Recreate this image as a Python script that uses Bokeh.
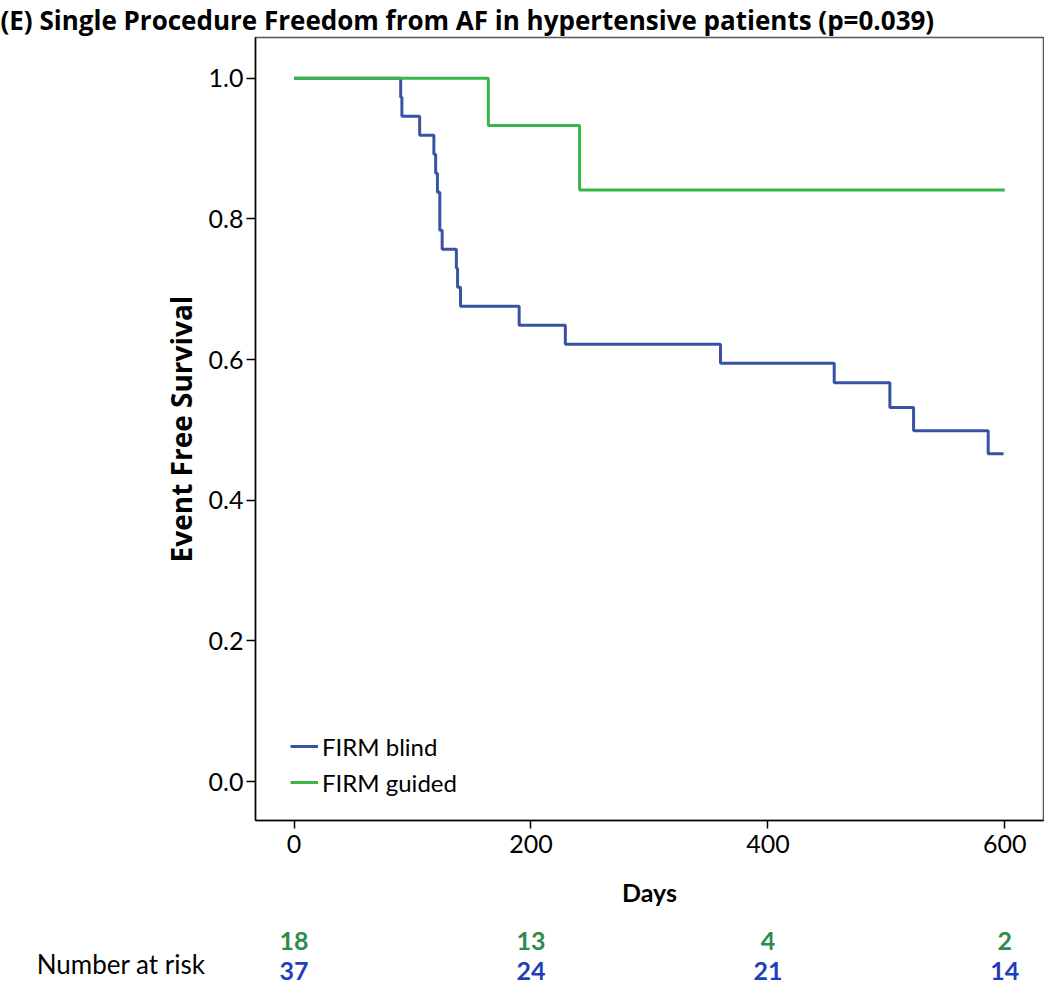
from bokeh.plotting import figure
from bokeh.models import (Range1d, FixedTicker, PrintfTickFormatter, Legend,
                          LegendItem, Title, LinearAxis)
from bokeh.layouts import column
from bokeh.embed import file_html
from bokeh.resources import INLINE
from bokeh.core.properties import value

# ---------------- data ----------------
title_text = "(E) Single Procedure Freedom from AF in hypertensive patients (p=0.039)"
x_label = "Days"
y_label = "Event Free Survival"
series_names = ["FIRM blind", "FIRM guided"]

blind_days = [0, 90, 91, 106, 118, 119.5, 121, 123, 125, 137, 138, 140.5,
              190, 229, 360, 456, 503, 523, 586, 599]
blind_surv = [1.0, 0.973, 0.946, 0.919, 0.892, 0.865, 0.838, 0.784, 0.757,
              0.730, 0.703, 0.676, 0.649, 0.622, 0.595, 0.567, 0.532, 0.499,
              0.466, 0.466]

guided_days = [0, 164, 241, 600]
guided_surv = [1.0, 0.933, 0.841, 0.841]

risk_label = "Number at risk"
risk_days = [0, 200, 400, 600]
risk_guided = [18, 13, 4, 2]
risk_blind = [37, 24, 21, 14]

x_ticks = [0, 200, 400, 600]
y_ticks = [0.0, 0.2, 0.4, 0.6, 0.8, 1.0]

# ---------------- styles ----------------
FONT = "Lato"
FONT_B = "Open Sans"
BLUE = "#3953a4"
GREEN = "#3ab54a"
BLUE_T = "#1f3fbf"
GREEN_T = "#2e8b4e"

W = 1044
H = 913
X0, X1 = -32.6, 632.7
Y0, Y1 = -0.0553, 1.058
LEFT, RIGHT, TOP, BOTTOM = 255, 1, 35, 93

p = figure(width=W, height=H, x_range=Range1d(X0, X1), y_range=Range1d(Y0, Y1),
           output_backend="svg", toolbar_location=None,
           min_border_left=LEFT, min_border_right=RIGHT, min_border_top=TOP,
           min_border_bottom=BOTTOM)
p.background_fill_color = "white"
p.border_fill_color = "white"
p.outline_line_color = "#555555"
p.outline_line_width = 1.5

p.title = Title(text=title_text, align="left", offset=-LEFT, standoff=-1,
                text_font=FONT_B, text_font_size="26px",
                text_font_style="bold", text_color="black")

r_blind = p.step(blind_days, blind_surv, mode="after", line_color=BLUE,
                 line_width=3)
r_guided = p.step(guided_days, guided_surv, mode="after", line_color=GREEN,
                  line_width=3)

p.xgrid.visible = False
p.ygrid.visible = False

for ax in (p.xaxis[0], p.yaxis[0]):
    ax.axis_line_color = "black"
    ax.axis_line_width = 1.5
    ax.major_tick_line_color = "black"
    ax.major_tick_line_width = 1.5
    ax.major_tick_in = 0
    ax.minor_tick_line_color = None
    ax.major_label_text_font = FONT
    ax.major_label_text_font_size = "25px"
    ax.major_label_text_color = "black"
    ax.axis_label_text_font_style = "bold"
    ax.axis_label_text_color = "black"

p.xaxis.ticker = FixedTicker(ticks=x_ticks)
p.yaxis.ticker = FixedTicker(ticks=y_ticks)
p.yaxis.formatter = PrintfTickFormatter(format="%.1f")
p.xaxis.axis_label = x_label
p.yaxis.axis_label = y_label
p.xaxis.major_tick_out = 8
p.xaxis.major_label_standoff = 6
p.xaxis.axis_label_text_font = FONT
p.xaxis.axis_label_text_font_size = "25px"
p.xaxis.axis_label_standoff = 21
p.yaxis.major_tick_out = 9
p.yaxis.major_label_standoff = 3
p.yaxis.axis_label_text_font = FONT_B
p.yaxis.axis_label_text_font_size = "28px"
p.yaxis.axis_label_standoff = 6

legend = Legend(items=[LegendItem(label=series_names[0], renderers=[r_blind]),
                       LegendItem(label=series_names[1], renderers=[r_guided])],
                location=(35, 23), orientation="vertical")
legend.label_text_font = FONT
legend.label_text_font_size = "24px"
legend.label_text_color = "black"
legend.background_fill_alpha = 0
legend.border_line_alpha = 0
legend.padding = 0
legend.margin = 0
legend.spacing = 6
legend.glyph_width = 28
legend.glyph_height = 30
legend.label_height = 30
legend.label_standoff = 4
p.add_layout(legend)

# ---------------- risk table ----------------
T2 = 18
H2 = 82
p2 = figure(width=W, height=H2, x_range=p.x_range, y_range=Range1d(0, H2 - T2),
            output_backend="svg", toolbar_location=None,
            x_axis_type=None, y_axis_type=None,
            min_border_left=LEFT, min_border_right=RIGHT, min_border_top=T2,
            min_border_bottom=0)
p2.outline_line_color = None
p2.xgrid.visible = False
p2.ygrid.visible = False
p2.background_fill_color = "white"
p2.border_fill_color = "white"

row_axis = LinearAxis(ticker=FixedTicker(ticks=[]), axis_label=risk_label,
                      axis_label_orientation="horizontal",
                      axis_label_standoff=50, axis_line_color=None,
                      major_tick_line_color=None, minor_tick_line_color=None,
                      major_label_text_font_size="0px",
                      axis_label_text_font=FONT, axis_label_text_font_size="26px",
                      axis_label_text_font_style="normal",
                      axis_label_text_color="black")
p2.add_layout(row_axis, "left")

p2.text(x=risk_days, y=[55] * len(risk_days), text=[str(v) for v in risk_guided],
        text_align="center", text_baseline="middle", text_font=value(FONT),
        text_font_style="bold", text_font_size="25px", text_color=GREEN_T)
p2.text(x=risk_days, y=[25] * len(risk_days), text=[str(v) for v in risk_blind],
        text_align="center", text_baseline="middle", text_font=value(FONT),
        text_font_style="bold", text_font_size="25px", text_color=BLUE_T)

layout = column(p, p2, spacing=0)
open("out.html", "w").write(file_html(layout, INLINE))
